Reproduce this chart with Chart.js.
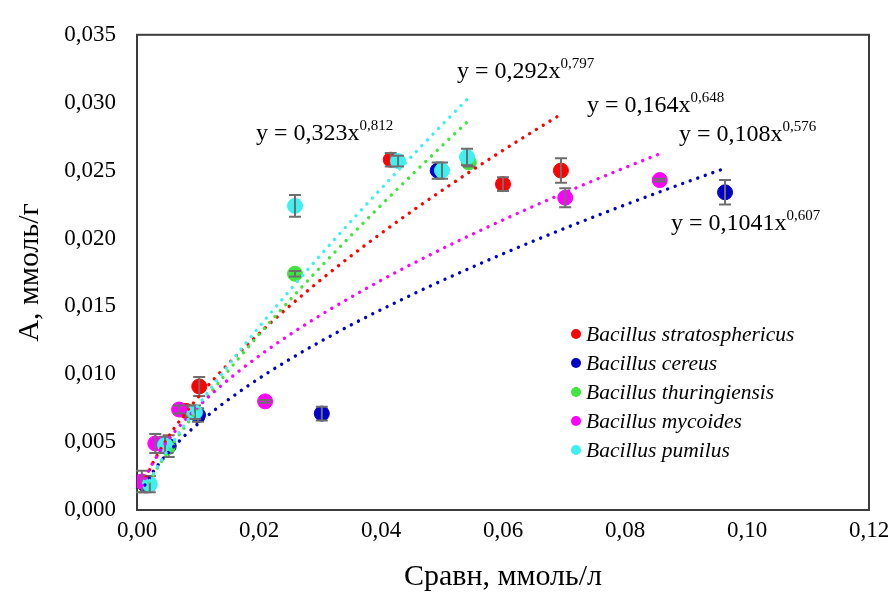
<!DOCTYPE html>
<html lang="ru">
<head>
<meta charset="UTF-8">
<title>Сорбция бактериями</title>
<script src="https://cdn.jsdelivr.net/npm/chart.js"></script>
<style>
  body { margin: 0; background: #fff; }
  #wrap { width: 893px; height: 595px; }
</style>
</head>
<body>
<div id="wrap"><canvas id="sorbChart"></canvas></div>
<script>
// --- measured points: Сравн (ммоль/л), А (ммоль/г), error (ммоль/г) ---
const names = ['Bacillus stratosphericus', 'Bacillus cereus', 'Bacillus thuringiensis', 'Bacillus mycoides', 'Bacillus pumilus'];
const colors = ['#ff0000', '#0000c8', '#40e640', '#ff00ff', '#3ef0f0'];

const xStrat = [0.0015, 0.0045, 0.0080, 0.0102, 0.0416, 0.0600, 0.0695];
const yStrat = [0.0020, 0.0048, 0.0073, 0.0091, 0.0258, 0.0240, 0.0250];
const eStrat = [0.0005, 0.0005, 0.0004, 0.0007, 0.0005, 0.0005, 0.0009];

const xCereus = [0.0013, 0.0052, 0.0100, 0.0303, 0.0493, 0.0964];
const yCereus = [0.0019, 0.0047, 0.0070, 0.0071, 0.0250, 0.0234];
const eCereus = [0.0006, 0.0008, 0.0005, 0.0005, 0.0006, 0.0009];

const xThur = [0.0020, 0.0050, 0.0093, 0.0259, 0.0544];
const yThur = [0.0019, 0.0046, 0.0072, 0.0174, 0.0256];
const eThur = [0.0004, 0.0004, 0.0003, 0.0002, 0.0003];

const xMyc = [0.0008, 0.0030, 0.0069, 0.0210, 0.0702, 0.0857];
const yMyc = [0.0021, 0.0049, 0.0074, 0.0080, 0.0230, 0.0243];
const eMyc = [0.0008, 0.0007, 0.0003, 0.0001, 0.0007, 0.0001];

const xPum = [0.0021, 0.0046, 0.0095, 0.0259, 0.0428, 0.0500, 0.0541];
const yPum = [0.0019, 0.0048, 0.0072, 0.0224, 0.0257, 0.0250, 0.0260];
const ePum = [0.0006, 0.0006, 0.0005, 0.0008, 0.0004, 0.0006, 0.0006];

// power trend lines y = a * x^b
const fitA = [0.164, 0.1041, 0.292, 0.108, 0.323];
const fitB = [0.648, 0.607, 0.797, 0.576, 0.812];
const fitLabels = ['y = 0,164x', 'y = 0,1041x', 'y = 0,292x', 'y = 0,108x', 'y = 0,323x'];
const fitPowers = ['0,648', '0,607', '0,797', '0,576', '0,812'];

const yTicks = [0, 0.005, 0.01, 0.015, 0.02, 0.025, 0.03, 0.035];
const xTicks = [0, 0.02, 0.04, 0.06, 0.08, 0.1, 0.12];

const seriesX = [xStrat, xCereus, xThur, xMyc, xPum];
const seriesY = [yStrat, yCereus, yThur, yMyc, yPum];
const seriesE = [eStrat, eCereus, eThur, eMyc, ePum];

const serif = "'Liberation Serif', 'Times New Roman', serif";

const datasets = [];
seriesX.forEach((xs, i) => {
    datasets.push({
        label: names[i],
        data: xs.map((x, j) => ({ x: x, y: seriesY[i][j] })),
        err: seriesE[i],
        backgroundColor: colors[i],
        borderColor: colors[i],
        pointRadius: 7.5,
        pointHoverRadius: 7.5,
        showLine: false,
        order: 20 - i
    });
});
// trend lines span the x range of their series
seriesX.forEach((xs, i) => {
    const lo = Math.min(...xs), hi = Math.max(...xs);
    const pts = [];
    for (let k = 0; k <= 60; k++) {
        const x = lo + (hi - lo) * k / 60;
        pts.push({ x: x, y: fitA[i] * Math.pow(x, fitB[i]) });
    }
    datasets.push({
        label: 'trend ' + names[i],
        data: pts,
        showLine: true,
        pointRadius: 0,
        borderColor: colors[i],
        borderWidth: 3.4,
        borderDash: [0.01, 8],
        borderCapStyle: 'round',
        fill: false,
        order: 5 - i
    });
});

// gray error bars, drawn right after each series' markers
const errorBars = {
    id: 'errorBars',
    afterDatasetDraw(chart, args) {
        const ds = chart.data.datasets[args.index];
        if (!ds.err) return;
        const ctx = chart.ctx, xs = chart.scales.x, ys = chart.scales.y;
        ctx.save();
        ctx.strokeStyle = '#6e6e6e';
        ctx.lineWidth = 2;
        ds.data.forEach((p, j) => {
            const e = ds.err[j];
            if (!e) return;
            const px = xs.getPixelForValue(p.x);
            const top = ys.getPixelForValue(p.y + e);
            const bot = ys.getPixelForValue(p.y - e);
            ctx.beginPath();
            ctx.moveTo(px, top); ctx.lineTo(px, bot);
            ctx.moveTo(px - 6, top); ctx.lineTo(px + 6, top);
            ctx.moveTo(px - 6, bot); ctx.lineTo(px + 6, bot);
            ctx.stroke();
        });
        ctx.restore();
    }
};

// frame, equations and legend inside the plot
const decorations = {
    id: 'decorations',
    beforeDatasetsDraw(chart) {
        const { ctx, chartArea: a } = chart;
        ctx.save();
        ctx.strokeStyle = '#3c3c3c';
        ctx.lineWidth = 2;
        ctx.strokeRect(a.left, a.top, a.right - a.left, a.bottom - a.top);
        ctx.restore();
    },
    afterDraw(chart) {
        const ctx = chart.ctx;
        ctx.save();
        ctx.fillStyle = '#000';
        ctx.textBaseline = 'alphabetic';
        ctx.textAlign = 'left';
        // equation anchors: left edge and baseline
        const spots = [[587, 112], [671, 230], [457, 78], [679, 141], [256, 140]];
        spots.forEach((s, i) => {
            ctx.font = '24px ' + serif;
            ctx.fillText(fitLabels[i], s[0], s[1]);
            const w = ctx.measureText(fitLabels[i]).width;
            ctx.font = '15px ' + serif;
            ctx.fillText(fitPowers[i], s[0] + w, s[1] - 10);
        });
        // legend
        ctx.textBaseline = 'middle';
        names.forEach((n, i) => {
            const y = 334 + i * 29;
            ctx.fillStyle = colors[i];
            ctx.beginPath();
            ctx.arc(576, y, 5, 0, Math.PI * 2);
            ctx.fill();
            ctx.fillStyle = '#000';
            ctx.font = 'italic 21.5px ' + serif;
            ctx.fillText(n, 586, y + 1);
        });
        ctx.restore();
    }
};

const ctx = document.getElementById('sorbChart').getContext('2d');
const chart = new Chart(ctx, {
    type: 'scatter',
    data: { datasets: datasets },
    options: {
        responsive: true,
        maintainAspectRatio: false,
        animation: false,
        layout: { padding: { top: 22, right: 24, left: 0, bottom: 0 } },
        plugins: {
            legend: { display: false },
            tooltip: { enabled: false }
        },
        scales: {
            x: {
                type: 'linear',
                min: 0,
                max: 0.12,
                afterFit(scale) {
                    scale.height = 85;
                    scale.paddingLeft = 0;
                    scale.paddingRight = 0;
                },
                afterBuildTicks(scale) { scale.ticks = xTicks.map(v => ({ value: v })); },
                ticks: {
                    color: '#000',
                    padding: 7,
                    font: { family: serif, size: 23 },
                    callback: v => v.toFixed(2).replace('.', ',')
                },
                grid: { display: false, drawTicks: false },
                border: { display: false },
                title: {
                    display: true,
                    text: 'Сравн, ммоль/л',
                    color: '#000',
                    font: { family: serif, size: 30 },
                    padding: { top: 0, bottom: 0 }
                }
            },
            y: {
                type: 'linear',
                min: 0,
                max: 0.035,
                afterFit(scale) { scale.width = 137; },
                afterBuildTicks(scale) { scale.ticks = yTicks.map(v => ({ value: v })); },
                ticks: {
                    color: '#000',
                    padding: 21,
                    font: { family: serif, size: 23 },
                    callback: v => v.toFixed(3).replace('.', ',')
                },
                grid: { display: false, drawTicks: false },
                border: { display: false },
                title: {
                    display: true,
                    text: 'А, ммоль/г',
                    color: '#000',
                    font: { family: serif, size: 30 },
                    padding: { top: 12, bottom: 0 }
                }
            }
        }
    },
    plugins: [errorBars, decorations]
});
</script>
</body>
</html>
